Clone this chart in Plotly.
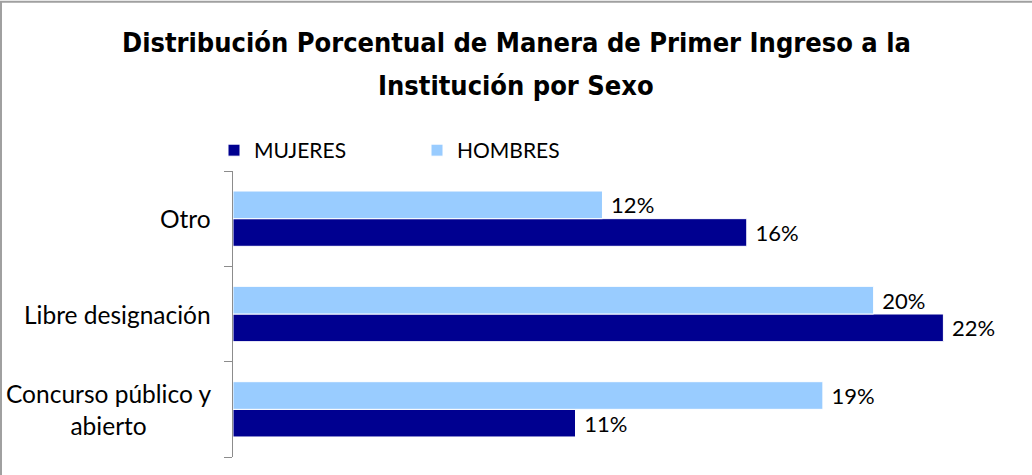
import plotly.graph_objects as go

categories = ["Concurso público y<br>abierto", "Libre designación", "Otro"]
mujeres = [10.8, 22.4, 16.2]
hombres = [18.6, 20.2, 11.65]
series_names = ["MUJERES", "HOMBRES"]
colors = ["#000090", "#99CCFF"]
title_lines = ["Distribución Porcentual de Manera de Primer Ingreso a la", "Institución por Sexo"]

FONT = "Lato, 'Open Sans', sans-serif"
TITLE_FONT = "'DejaVu Sans Condensed', 'DejaVu Sans', sans-serif"

W, H = 1032, 475
L, R, T, B = 233, 22, 170.5, 18
pw, ph = W - L - R, H - T - B


def px_x(px):
    return (px - L) / pw


def px_y(py):
    return (H - B - py) / ph


fig = go.Figure()
for name, vals, col in zip(series_names, [mujeres, hombres], colors):
    fig.add_trace(go.Bar(
        y=categories, x=vals, name=name, orientation="h",
        marker=dict(color=col, line=dict(color="white", width=1)),
        texttemplate=" %{x:.0f}%", textposition="outside",
        textfont=dict(family=FONT, size=22, color="black"),
        cliponaxis=False,
    ))

for c in categories:
    fig.add_annotation(
        x=0, xref="paper", y=c, yref="y", text=c, showarrow=False,
        xanchor="right", xshift=-20, align="center",
        font=dict(family=FONT, size=24.5, color="black"),
    )

for line, cy in zip(title_lines, [42, 85]):
    fig.add_annotation(
        x=px_x(516), xref="paper", y=px_y(cy), yref="paper", text=line,
        showarrow=False, xanchor="center", yanchor="middle",
        font=dict(family=TITLE_FONT, size=27, color="black", weight="bold"),
    )

fig.add_shape(
    type="rect", xref="paper", yref="paper",
    x0=px_x(1), x1=px_x(W + 20), y0=px_y(H + 20), y1=px_y(1),
    line=dict(color="#a0a0a0", width=2), fillcolor="rgba(0,0,0,0)", layer="below",
)

fig.update_layout(
    width=W, height=H,
    margin=dict(l=L, r=R, t=T, b=B, autoexpand=False),
    paper_bgcolor="white", plot_bgcolor="white",
    barmode="group", bargap=0.42, bargroupgap=0,
    showlegend=True,
    legend=dict(
        orientation="h", x=px_x(214), xanchor="left", y=px_y(150), yanchor="middle",
        font=dict(family=FONT, size=21, color="black"),
        entrywidth=158, traceorder="normal",
        bgcolor="rgba(0,0,0,0)",
    ),
    xaxis=dict(range=[0, 24.5], visible=False, fixedrange=True),
    yaxis=dict(
        showticklabels=False, showline=True, linecolor="#8c8c8c", linewidth=1,
        ticks="outside", ticklen=8, tickcolor="#8c8c8c", tickson="boundaries",
        showgrid=False, zeroline=False,
    ),
)

fig.write_html(
    "out.html",
    config={"displayModeBar": False},
    post_script="document.body.style.margin='0';document.body.style.overflow='hidden';",
)
